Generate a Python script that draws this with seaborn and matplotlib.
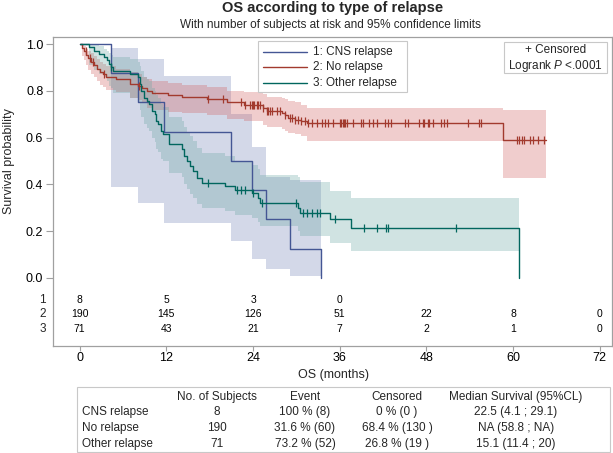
import numpy as np
import matplotlib
matplotlib.use('Agg')
import matplotlib.pyplot as plt
import seaborn as sns
from matplotlib.patches import Rectangle
from matplotlib.lines import Line2D

# CNS relapse
cns_t = [0, 4.3, 8.0, 11.6, 21.0, 23.9, 25.8, 29.1, 33.4]
cns_s = [1.0, 0.875, 0.75, 0.625, 0.5, 0.375, 0.25, 0.125, 0.0]
cns_lo = [1.0, 0.39, 0.32, 0.234, 0.16, 0.08, 0.04, 0.01, 0.01]
cns_hi = [1.0, 0.984, 0.934, 0.865, 0.70, 0.56, 0.43, 0.42, 0.42]
cns_cens = []

# No relapse
no_t = [0, 0.3, 0.6, 0.9, 1.2, 1.6, 2.0, 2.4, 2.8, 3.2, 3.6, 5.0, 7.0, 8.0, 8.6, 9.3,
        10.0, 12.2, 14.2, 17.6, 20.4, 22.7, 25.4, 25.9, 28.0, 28.4, 28.9, 29.8, 30.7,
        31.4, 58.6, 64.5]
no_s = [1.0, 0.985, 0.97, 0.955, 0.94, 0.925, 0.91, 0.895, 0.88, 0.87, 0.86, 0.85, 0.83,
        0.82, 0.81, 0.80, 0.79, 0.782, 0.774, 0.764, 0.752, 0.741, 0.727, 0.712, 0.705,
        0.698, 0.684, 0.677, 0.669, 0.662, 0.59, 0.59]
no_hi = [1.0, 1.0, 0.99, 0.98, 0.97, 0.96, 0.95, 0.935, 0.925, 0.915, 0.905, 0.895, 0.88,
         0.87, 0.86, 0.85, 0.84, 0.835, 0.825, 0.815, 0.80, 0.795, 0.785, 0.775, 0.77,
         0.765, 0.755, 0.75, 0.74, 0.727, 0.72, 0.72]
no_lo = [1.0, 0.95, 0.93, 0.91, 0.89, 0.87, 0.86, 0.84, 0.825, 0.815, 0.805, 0.795, 0.77,
         0.76, 0.75, 0.725, 0.72, 0.71, 0.705, 0.695, 0.68, 0.67, 0.655, 0.645, 0.635,
         0.63, 0.62, 0.615, 0.605, 0.585, 0.427, 0.427]
no_cens = [0.8, 1.4, 1.9, 3.3, 8.2, 17.8, 19.8, 22.4, 22.9, 23.6, 23.8, 24.0, 24.2, 24.5,
           24.7, 25.0, 25.4, 25.9, 26.1, 26.3, 26.6, 27.3, 27.7, 28.4, 29.1, 29.4, 29.8,
           30.2, 30.7, 31.2, 31.6, 32.1, 32.8, 33.5, 33.9, 34.4, 35.1, 36.0, 36.2, 36.4,
           36.6, 36.8, 37.0, 37.8, 39.0, 39.2, 40.1, 40.6, 41.1, 42.2, 42.7, 43.1, 45.0,
           45.4, 47.0, 47.5, 47.7, 48.2, 48.4, 48.9, 50.0, 50.5, 50.9, 53.7, 55.3, 55.5,
           60.6, 60.8, 61.3, 61.5, 62.4, 62.7, 63.4, 64.3]

# Other relapse
ot_t = [0, 1.3, 2.0, 2.7, 3.4, 3.8, 4.1, 4.3, 4.6, 7.0, 8.0, 8.3, 8.5, 8.9, 9.3, 9.6,
        10.0, 10.4, 10.6, 10.9, 11.2, 11.5, 12.3, 14.2, 14.4, 14.9, 15.3, 15.7, 16.2,
        16.9, 20.1, 21.5, 23.8, 24.7, 25.0, 30.2, 30.5, 34.6, 37.6, 60.8]
ot_s = [1.0, 0.986, 0.972, 0.958, 0.944, 0.93, 0.915, 0.901, 0.886, 0.872, 0.857, 0.829,
        0.80, 0.771, 0.757, 0.743, 0.714, 0.70, 0.671, 0.657, 0.629, 0.614, 0.571, 0.55,
        0.521, 0.50, 0.478, 0.457, 0.428, 0.407, 0.393, 0.378, 0.364, 0.343, 0.321, 0.30,
        0.278, 0.25, 0.213, 0.0]
ot_lo = [1.0, 0.91, 0.89, 0.87, 0.86, 0.84, 0.82, 0.81, 0.79, 0.77, 0.75, 0.72, 0.69,
         0.66, 0.64, 0.63, 0.60, 0.58, 0.55, 0.54, 0.51, 0.50, 0.45, 0.43, 0.40, 0.38,
         0.36, 0.34, 0.315, 0.30, 0.285, 0.27, 0.255, 0.24, 0.22, 0.20, 0.18, 0.15, 0.113,
         0.113]
ot_hi = [1.0, 1.0, 0.995, 0.99, 0.98, 0.97, 0.96, 0.955, 0.945, 0.935, 0.925, 0.905,
         0.885, 0.86, 0.85, 0.84, 0.81, 0.80, 0.78, 0.77, 0.745, 0.73, 0.69, 0.67, 0.645,
         0.625, 0.605, 0.585, 0.555, 0.534, 0.52, 0.50, 0.484, 0.465, 0.44, 0.43, 0.41,
         0.37, 0.341, 0.341]
ot_cens = [4.3, 17.8, 21.8, 22.3, 22.9, 24.0, 25.2, 30.0, 30.9, 31.4, 32.1, 32.8, 33.2,
           35.3, 39.4, 41.1, 42.4, 42.7, 52.1]

# numbers at risk
risk_times = [0, 12, 24, 36, 48, 60, 72]
risk_cns = [8, 5, 3, 0]
risk_no = [190, 145, 126, 51, 22, 8, 0]
risk_ot = [71, 43, 21, 7, 2, 1, 0]

# summary table
tab_groups = ['CNS relapse', 'No relapse', 'Other relapse']
tab_n = ['8', '190', '71']
tab_event = ['100 % (8)', '31.6 % (60)', '73.2 % (52)']
tab_cens = ['0 % (0 )', '68.4 % (130 )', '26.8 % (19 )']
tab_median = ['22.5 (4.1 ; 29.1)', 'NA (58.8 ; NA)', '15.1 (11.4 ; 20)']
tab_header = ['No. of Subjects', 'Event', 'Censored', 'Median Survival (95%CL)']

sns.set_theme(style='white')
plt.rcParams['font.family'] = ['Liberation Sans', 'DejaVu Sans']
plt.rcParams['mathtext.fontset'] = 'custom'
plt.rcParams['mathtext.it'] = 'Liberation Sans:italic'
plt.rcParams['mathtext.rm'] = 'Liberation Sans'

W, H = 613, 453
fig = plt.figure(figsize=(W / 100, H / 100), dpi=100)


def fx(px):
    return px / W


def fy(py):
    return 1 - py / H


ax = fig.add_axes([fx(53), fy(346), (612 - 53) / W, (346 - 37) / H])

groups = [
    ('1: CNS relapse', cns_t, cns_s, cns_lo, cns_hi, cns_cens, '#445694', '#6F7EB3'),
    ('2: No relapse', no_t, no_s, no_lo, no_hi, no_cens, '#A23A2E', '#D05B5B'),
    ('3: Other relapse', ot_t, ot_s, ot_lo, ot_hi, ot_cens, '#01665E', '#66A5A0'),
]

# confidence bands first, curves on top
for name, t, s, lo, hi, cens, lc, fc in groups:
    ax.fill_between(t, lo, hi, step='post', color=fc, alpha=0.3, lw=0, zorder=1)
for name, t, s, lo, hi, cens, lc, fc in groups:
    sns.lineplot(x=t, y=s, drawstyle='steps-post', color=lc, lw=1.0, ax=ax,
                 estimator=None, sort=False, zorder=3)
    if cens:
        idx = np.searchsorted(t, cens, side='right') - 1
        ax.plot(cens, np.asarray(s)[idx], ls='', marker='|', ms=6, mew=0.9,
                color=lc, zorder=4)

ax.set_xlim(-3.7, 73.7)
ax.set_ylim(-0.291, 1.03)
ax.set_xticks(risk_times)
ax.set_xticklabels([str(v) for v in risk_times], fontsize=9)
ax.set_yticks([0.0, 0.2, 0.4, 0.6, 0.8, 1.0])
ax.set_yticklabels(['0.0', '0.2', '0.4', '0.6', '0.8', '1.0'], fontsize=9)
ax.tick_params(axis='y', length=5, width=0.8, color='#A0A0A0', pad=2,
               labelcolor='black', left=True)
ax.tick_params(axis='x', length=3.6, width=0.8, color='#A0A0A0', pad=0.5,
               labelcolor='black', bottom=True)
for sp in ax.spines.values():
    sp.set_color('#A0A0A0')
    sp.set_linewidth(0.9)
ax.set_xlabel('')
ax.set_ylabel('')

# number at risk rows inside frame
risk_rows = [risk_cns, risk_no, risk_ot]
row_y = [299.6, 314.0, 328.6]
for i, (vals, py) in enumerate(zip(risk_rows, row_y)):
    for tt, v in zip(risk_times, vals):
        ax.annotate(str(v), xy=(tt, fy(py)), xycoords=('data', 'figure fraction'),
                    ha='center', va='center', fontsize=7.5, color='black')
    fig.text(fx(46), fy(py), str(i + 1), ha='right', va='center', fontsize=8.5)

# axis labels
fig.text(fx(9), fy(161), 'Survival probability', rotation=90, ha='center',
         va='center', fontsize=9)
fig.text(fx(333), fy(375), 'OS (months)', ha='center', va='center', fontsize=9)

# titles
fig.text(fx(333), fy(8), 'OS according to type of relapse', ha='center',
         va='center', fontsize=10.5, fontweight='bold')
fig.text(fx(330), fy(25), 'With number of subjects at risk and 95% confidence limits',
         ha='center', va='center', fontsize=8.5)

# legend box
fig.add_artist(Rectangle((fx(258), fy(92)), (407 - 258) / W, (92 - 41) / H,
                         transform=fig.transFigure, facecolor='white',
                         edgecolor='#C8C8C8', lw=0.8, zorder=5))
for (name, t, s, lo, hi, cens, lc, fc), py in zip(groups, [51.7, 67.3, 83.3]):
    fig.add_artist(Line2D([fx(262.5), fx(307)], [fy(py), fy(py)], color=lc, lw=1.0,
                          transform=fig.transFigure, zorder=6))
    fig.text(fx(313), fy(py), name, ha='left', va='center', fontsize=8.5, zorder=7)

# censored / logrank box
fig.add_artist(Rectangle((fx(504), fy(73.3)), (607.3 - 504) / W, (73.3 - 41.7) / H,
                         transform=fig.transFigure, facecolor='white',
                         edgecolor='#C8C8C8', lw=0.8, zorder=5))
fig.text(fx(555.5), fy(50), '+ Censored', ha='center', va='center', fontsize=8.5,
         zorder=7)
fig.text(fx(555.5), fy(65.5), 'Logrank $\\mathit{P}$ <.0001', ha='center',
         va='center', fontsize=8.5, zorder=7)

# summary table
fig.add_artist(Rectangle((fx(77), fy(452)), (610 - 77) / W, (452 - 387) / H,
                         transform=fig.transFigure, facecolor='none',
                         edgecolor='#C8C8C8', lw=0.8))
col_x = [217, 305, 397, 516]
for cx, h in zip(col_x, tab_header):
    fig.text(fx(cx), fy(396.7), h, ha='center', va='center', fontsize=8.5)
for i, py in enumerate([411.7, 427.7, 444.3]):
    fig.text(fx(82), fy(py), tab_groups[i], ha='left', va='center', fontsize=8.5)
    for cx, col in zip(col_x, [tab_n, tab_event, tab_cens, tab_median]):
        fig.text(fx(cx), fy(py), col[i], ha='center', va='center', fontsize=8.5)

fig.savefig('out.png', dpi=100)
